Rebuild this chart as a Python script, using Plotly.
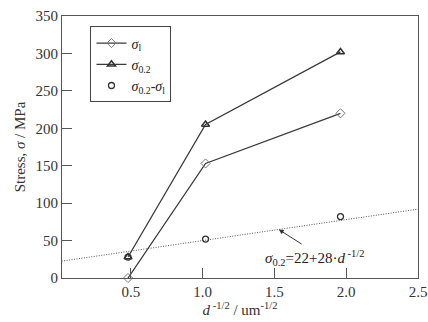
import plotly.graph_objects as go

x_vals = [0.48, 1.02, 1.96]
sigma_l = [0, 153, 220]
sigma_02 = [28, 205, 302]
sigma_diff = [28, 52, 82]
fit_x = [0.0, 2.5]
fit_intercept = 22
fit_slope = 28
fit_y = [fit_intercept + fit_slope * v for v in fit_x]

font_family = "Liberation Serif, serif"
line_col = "#3a3a3a"

fig = go.Figure()
fig.add_trace(go.Scatter(
    x=fit_x, y=fit_y, mode="lines", showlegend=False,
    line=dict(color="#555555", width=1, dash="1px,1.5px")))
fig.add_trace(go.Scatter(
    x=x_vals, y=sigma_l, mode="lines+markers", name="<i>σ</i><sub>l</sub>",
    cliponaxis=False,
    line=dict(color=line_col, width=1.3),
    marker=dict(symbol="diamond-open", size=7, color="#777777", line=dict(width=1))))
fig.add_trace(go.Scatter(
    x=x_vals, y=sigma_02, mode="lines+markers", name="<i>σ</i><sub>0.2</sub>",
    cliponaxis=False,
    line=dict(color=line_col, width=1.3),
    marker=dict(symbol="triangle-up-open", size=7, color="#333333", line=dict(width=1.5))))
fig.add_trace(go.Scatter(
    x=x_vals, y=sigma_diff, mode="markers", name="<i>σ</i><sub>0.2</sub>-<i>σ</i><sub>l</sub>",
    cliponaxis=False,
    marker=dict(symbol="circle-open", size=6, color="#333333", line=dict(width=1.3))))

fig.add_annotation(
    x=1.53, y=fit_intercept + fit_slope * 1.53, xref="x", yref="y",
    ax=1.70, ay=44, axref="x", ayref="y",
    text="", showarrow=True, arrowhead=2, arrowsize=1, arrowwidth=1, arrowcolor="#333333")
fig.add_annotation(
    x=1.78, y=27, xref="x", yref="y", showarrow=False,
    text="<i>σ</i><sub>0.2</sub>=22+28·<i>d</i><sup> -1/2</sup>",
    font=dict(family=font_family, size=15, color="#222222"))

axis_common = dict(
    showline=True, linecolor="#555555", linewidth=1.2, mirror=True,
    ticks="inside", ticklen=10, tickcolor="#555555", tickwidth=1.2,
    showgrid=False, zeroline=False, automargin=False,
    tickfont=dict(family=font_family, size=15, color="#333333"))

fig.update_layout(
    width=428, height=322,
    margin=dict(l=62, r=10, t=16, b=44),
    paper_bgcolor="white", plot_bgcolor="white",
    font=dict(family=font_family, size=15, color="#333333"),
    xaxis=dict(range=[0.02, 2.5], tickvals=[0.5, 1.0, 1.5, 2.0, 2.5],
               ticktext=["0.5", "1.0", "1.5", "2.0", "2.5"],
               title=dict(text="<i>d</i><sup> -1/2</sup> / um<sup>-1/2</sup>", standoff=5,
                          font=dict(family=font_family, size=15)),
               **axis_common),
    yaxis=dict(range=[0, 350], tickvals=[0, 50, 100, 150, 200, 250, 300, 350],
               title=dict(text="Stress, <i>σ</i> / MPa", standoff=6,
                          font=dict(family=font_family, size=15)),
               **axis_common),
    legend=dict(x=0.08, y=0.96, xanchor="left", yanchor="top",
                bordercolor="#444444", borderwidth=1, bgcolor="white",
                font=dict(family=font_family, size=14, color="#222222"),
                tracegroupgap=0, itemwidth=30),
)

fig.write_html("out.html")
